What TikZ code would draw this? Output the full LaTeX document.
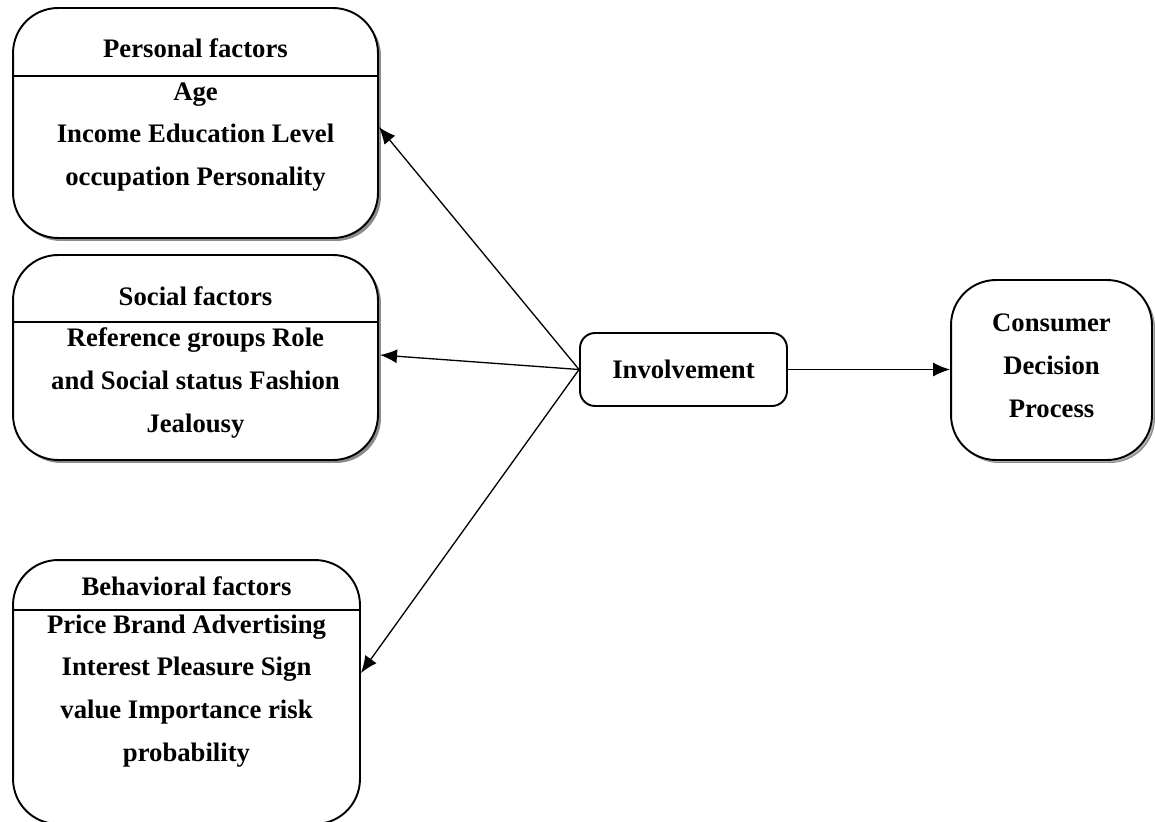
\documentclass[tikz,border=0pt]{standalone}
\usepackage{fontspec}
\setmainfont{Liberation Serif}
\usetikzlibrary{arrows.meta,positioning,shadows}
\tikzstyle{box} = [draw,fill=white,line width=1.1pt,rounded corners=0.9cm,inner sep=0]
\tikzstyle{boxshadow} = [drop shadow={shadow xshift=0.06cm,shadow yshift=-0.06cm,fill=black!45,opacity=1}]
\tikzstyle{txt} = [font=\bfseries\fontsize{15.2}{24.4}\selectfont,align=center,inner sep=0]
\tikzstyle{rule} = [line width=0.8pt]
\tikzstyle{link} = [-{Latex[length=0.34cm,width=0.28cm]},line width=0.75pt]
\begin{document}
\begin{tikzpicture}[x=0.02cm,y=-0.02cm]
  \useasboundingbox (0,0) rectangle (1155,821);
  % factor boxes
  \node[box,boxshadow,minimum width=7.3cm,minimum height=4.6cm] (pers) at (195.5,123) {};
  \node[txt] (perst) at (195.5,48) {Personal factors};
  \draw[rule] (pers.west |- 0,76) -- (pers.east |- 0,76);
  \node[txt] (persb) at (195.5,137) {Age\\Income Education Level\\occupation Personality};

  \node[box,boxshadow,minimum width=7.3cm,minimum height=4.1cm] (soc) at (195.5,357.5) {};
  \node[txt] (soct) at (195.5,296) {Social factors};
  \draw[rule] (soc.west |- 0,322) -- (soc.east |- 0,322);
  \node[txt] (socb) at (195.5,383) {Reference groups Role\\and Social status Fashion\\Jealousy};

  \node[box,minimum width=6.94cm,minimum height=5.28cm] (beh) at (186.5,692) {};
  \node[txt] (beht) at (186.5,586) {Behavioral factors};
  \draw[rule] (beh.west |- 0,610) -- (beh.east |- 0,610);
  \node[txt] (behb) at (186.5,691) {Price Brand Advertising\\Interest Pleasure Sign\\value Importance risk\\probability};

  % involvement and decision
  \node[box,rounded corners=0.3cm,minimum width=4.14cm,minimum height=1.46cm] (inv) at (683.5,369.5) {};
  \node[txt] (invt) at (inv) {Involvement};
  \node[box,boxshadow,drop shadow={shadow xshift=0.04cm,shadow yshift=-0.04cm,fill=black!15},minimum width=4.02cm,minimum height=3.6cm] (cons) at (1051.5,370) {};
  \node[txt] (const) at (1051.5,366) {Consumer\\Decision\\Process};

  % connectors
  \coordinate (pin) at (pers.east |- 0,127);
  \coordinate (sin) at (380,355);
  \coordinate (bin) at (beh.east |- 0,673);
  \draw[link] (inv.west) -- (pin);
  \draw[link] (inv.west) -- (sin);
  \draw[link] (inv.west) -- (bin);
  \draw[link] (inv.east) -- (inv.east -| cons.west);
\end{tikzpicture}
\end{document}
